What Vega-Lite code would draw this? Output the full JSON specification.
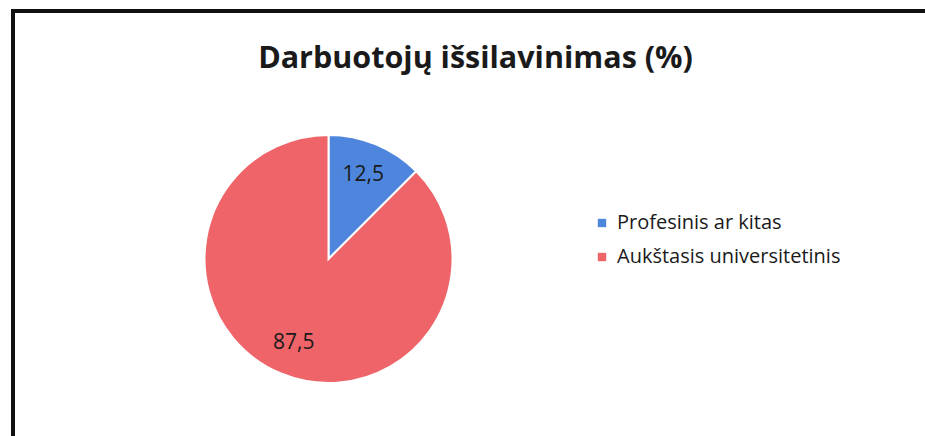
{
  "$schema": "https://vega.github.io/schema/vega-lite/v6.json",
  "width": 925,
  "height": 430,
  "autosize": {"type": "none"},
  "padding": {"left": 13, "top": 11, "right": 0, "bottom": 0},
  "background": "white",
  "config": {
    "view": {"stroke": "#111111", "strokeWidth": 4},
    "locale": {"number": {"decimal": ",", "thousands": " ", "grouping": [3], "currency": ["", " €"]}}
  },
  "title": {
    "text": "Darbuotojų išsilavinimas (%)",
    "font": "Open Sans",
    "fontSize": 30.5,
    "fontWeight": "bold",
    "color": "#1a1a1a",
    "anchor": "middle",
    "frame": "group",
    "offset": 0,
    "baseline": "alphabetic",
    "dy": 87
  },
  "data": {
    "values": [
      {"kategorija": "Profesinis ar kitas", "procentai": 12.5, "eil": 1},
      {"kategorija": "Aukštasis universitetinis", "procentai": 87.5, "eil": 2}
    ]
  },
  "encoding": {
    "theta": {"field": "procentai", "type": "quantitative", "stack": true},
    "order": {"field": "eil", "type": "quantitative"},
    "x": {"datum": 0.3411, "type": "quantitative", "scale": {"domain": [0, 1]}, "axis": null},
    "y": {"datum": 0.5767, "type": "quantitative", "scale": {"domain": [0, 1], "reverse": true}, "axis": null}
  },
  "layer": [
    {
      "mark": {"type": "arc", "radius": 124, "stroke": "white", "strokeWidth": 2},
      "encoding": {
        "color": {
          "field": "kategorija",
          "type": "nominal",
          "sort": ["Profesinis ar kitas", "Aukštasis universitetinis"],
          "scale": {"domain": ["Profesinis ar kitas", "Aukštasis universitetinis"], "range": ["#4f86dd", "#ee6468"]},
          "legend": {
            "title": null,
            "orient": "none",
            "legendX": 579,
            "legendY": 202,
            "padding": 0,
            "symbolType": "square",
            "symbolSize": 70,
            "symbolStrokeWidth": 0,
            "labelFont": "Open Sans",
            "labelFontSize": 20,
            "labelColor": "#1a1a1a",
            "labelOffset": 5,
            "labelLimit": 500,
            "rowPadding": 14
          }
        }
      }
    },
    {
      "mark": {"type": "text", "radius": 91, "font": "Open Sans", "fontSize": 21, "color": "#1a1a1a"},
      "encoding": {"text": {"field": "procentai", "type": "quantitative", "format": ".1f"}}
    }
  ]
}
